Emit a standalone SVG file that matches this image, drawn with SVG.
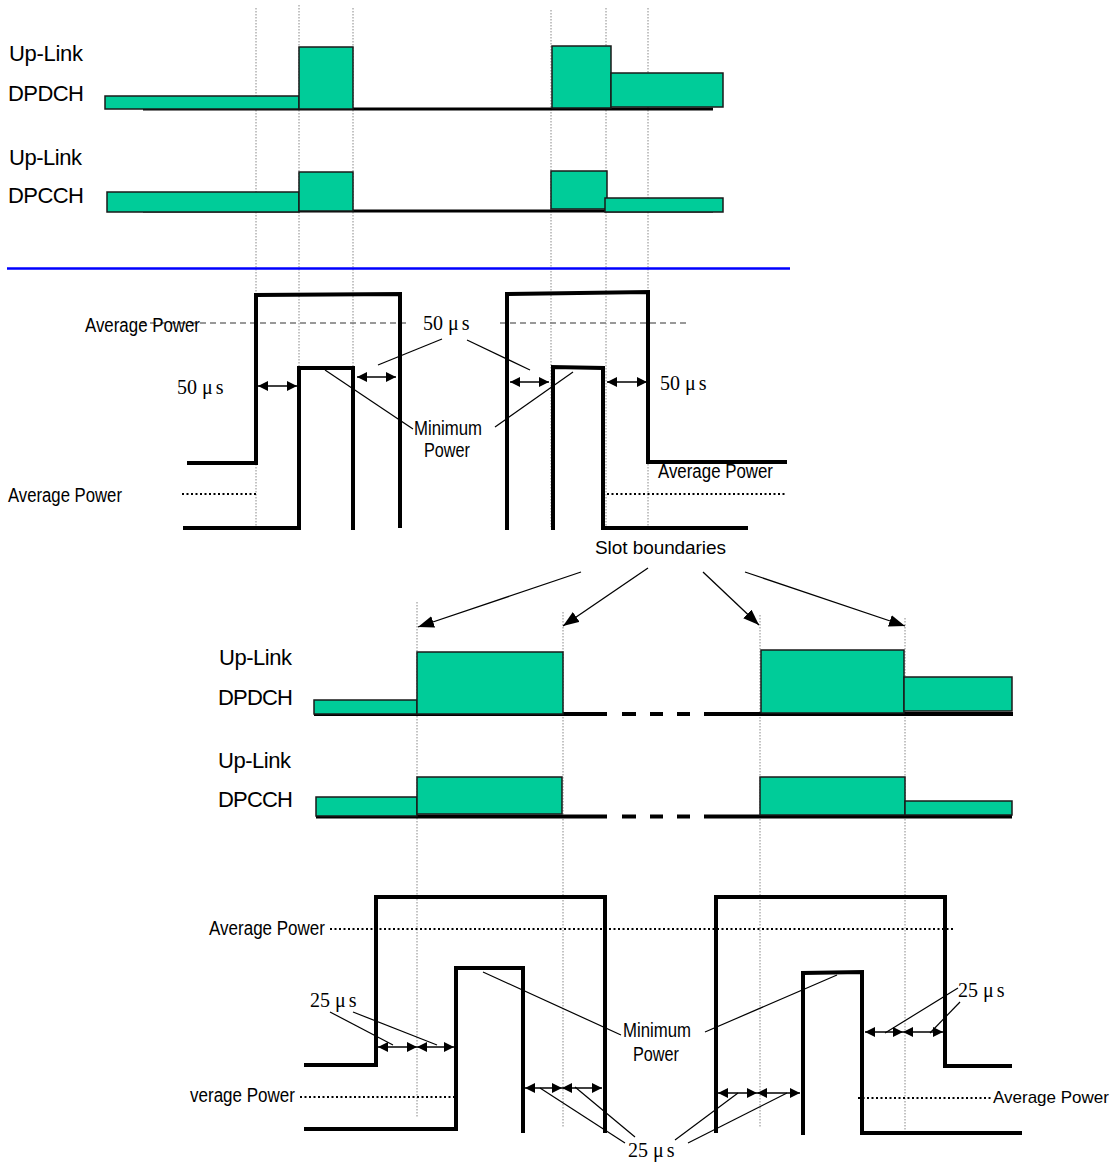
<svg xmlns="http://www.w3.org/2000/svg" width="1111" height="1169" viewBox="0 0 1111 1169">
<style>
.lbl{font-family:"Liberation Sans",Arial,sans-serif;font-size:22px;fill:#000}
.sm{font-family:"Liberation Sans",Arial,sans-serif;font-size:20px;fill:#000}
.us{font-family:"Liberation Serif","Times New Roman",serif;font-size:20px;fill:#000}
.ch{fill:#00CC99;stroke:#1a1a1a;stroke-width:1.5}
.base{stroke:#000;stroke-width:3;fill:none}
.base4{stroke:#000;stroke-width:4;fill:none}
.slot{stroke:#888;stroke-width:1;stroke-dasharray:1.5,1.5;fill:none}
.pulse{stroke:#000;stroke-width:4;fill:none;stroke-linejoin:miter}
.avgdot{stroke:#000;stroke-width:2;stroke-dasharray:2,2.5;fill:none}
.avgdash{stroke:#777;stroke-width:1.5;stroke-dasharray:6,4;fill:none}
.lead{stroke:#000;stroke-width:1.2;fill:none}
.dbl{stroke:#000;stroke-width:1.5;fill:none;marker-start:url(#ah);marker-end:url(#ah)}
.sarr{stroke:#000;stroke-width:1.3;fill:none;marker-end:url(#bh)}
</style>
<defs>
<marker id="ah" viewBox="0 0 10 10" refX="10" refY="5" markerWidth="11" markerHeight="10" markerUnits="userSpaceOnUse" orient="auto-start-reverse">
<path d="M0,0 L10,5 L0,10 z" fill="#000"/>
</marker>
<marker id="bh" viewBox="0 0 16 12" refX="16" refY="6" markerWidth="16" markerHeight="12" markerUnits="userSpaceOnUse" orient="auto">
<path d="M0,0 L16,6 L0,12 z" fill="#000"/>
</marker>
</defs>
<rect width="1111" height="1169" fill="#fff"/>

<!-- slot boundary guide lines -->
<g id="guides">
<line class="slot" x1="256" y1="8" x2="256" y2="527"/>
<line class="slot" x1="299" y1="5" x2="299" y2="527"/>
<line class="slot" x1="353" y1="8" x2="353" y2="527"/>
<line class="slot" x1="551" y1="10" x2="551" y2="527"/>
<line class="slot" x1="606" y1="8" x2="606" y2="527"/>
<line class="slot" x1="648" y1="8" x2="648" y2="527"/>
<line class="slot" x1="417" y1="602" x2="417" y2="1117"/>
<line class="slot" x1="563" y1="612" x2="563" y2="1127"/>
<line class="slot" x1="760" y1="615" x2="760" y2="1128"/>
<line class="slot" x1="905" y1="618" x2="905" y2="1130"/>
</g>

<!-- top channels -->
<g id="top-dpdch">
<text class="lbl" x="9" y="61" textLength="74">Up-Link</text>
<text class="lbl" x="8" y="101" textLength="76">DPDCH</text>
<line class="base" x1="143" y1="109" x2="713" y2="109"/>
<rect class="ch" x="105" y="96" width="194" height="13"/>
<rect class="ch" x="299" y="47" width="54" height="62"/>
<rect class="ch" x="552" y="46" width="59" height="62"/>
<rect class="ch" x="611" y="73" width="112" height="34"/>
</g>
<g id="top-dpcch">
<text class="lbl" x="9" y="165" textLength="73">Up-Link</text>
<text class="lbl" x="8" y="203" textLength="76">DPCCH</text>
<line class="base" x1="143" y1="211" x2="713" y2="211"/>
<rect class="ch" x="107" y="192" width="192" height="20"/>
<rect class="ch" x="299" y="172" width="54" height="39"/>
<rect class="ch" x="551" y="171" width="56" height="38"/>
<rect class="ch" x="605" y="198" width="118" height="14"/>
</g>

<line id="divider" x1="7" y1="268.5" x2="790" y2="268.5" stroke="#0000FF" stroke-width="2.5"/>

<!-- middle power diagram -->
<g id="mid-power">
<line class="avgdash" x1="140" y1="323" x2="410" y2="323"/>
<line class="avgdash" x1="500" y1="323" x2="690" y2="323"/>
<text class="sm" x="85" y="332" textLength="115" lengthAdjust="spacingAndGlyphs">Average Power</text>
<text class="sm" x="8" y="502" textLength="114" lengthAdjust="spacingAndGlyphs">Average Power</text>
<text class="sm" x="658" y="478" textLength="115" lengthAdjust="spacingAndGlyphs">Average Power</text>
<line class="avgdot" x1="182" y1="494" x2="256" y2="494"/>
<line class="avgdot" x1="607" y1="494" x2="787" y2="494"/>
<polyline class="pulse" points="187,463 256,463 256,295 400,294 400,528"/>
<polyline class="pulse" points="183,528 299,528 299,368 353,368 353,530"/>
<polyline class="pulse" points="507,530 507,294 648,292 648,462 787,462"/>
<polyline class="pulse" points="553,530 553,367 603,368 603,528 748,528"/>
<text class="us" x="177" y="394">50 μ<tspan dx="3">s</tspan></text>
<text class="us" x="423" y="330">50 μ<tspan dx="3">s</tspan></text>
<text class="us" x="660" y="390">50 μ<tspan dx="3">s</tspan></text>
<text class="sm" x="414" y="435" textLength="68" lengthAdjust="spacingAndGlyphs">Minimum</text>
<text class="sm" x="424" y="457" textLength="46" lengthAdjust="spacingAndGlyphs">Power</text>
</g>

<text id="slot-label" class="sm" x="595" y="554" style="font-size:19px" textLength="131">Slot boundaries</text>

<!-- bottom channels -->
<g id="bot-dpdch">
<text class="lbl" x="219" y="665" textLength="73">Up-Link</text>
<text class="lbl" x="218" y="705" textLength="75">DPDCH</text>
<line class="base4" x1="314" y1="714" x2="607" y2="714"/>
<line class="base4" x1="622" y1="714" x2="636" y2="714"/>
<line class="base4" x1="650" y1="714" x2="663" y2="714"/>
<line class="base4" x1="677" y1="714" x2="690" y2="714"/>
<line class="base4" x1="704" y1="714" x2="1013" y2="714"/>
<rect class="ch" x="314" y="700" width="103" height="14"/>
<rect class="ch" x="417" y="652" width="146" height="62"/>
<rect class="ch" x="761" y="650" width="143" height="63"/>
<rect class="ch" x="904" y="677" width="108" height="34"/>
</g>
<g id="bot-dpcch">
<text class="lbl" x="218" y="768" textLength="73">Up-Link</text>
<text class="lbl" x="218" y="807" textLength="75">DPCCH</text>
<line class="base4" x1="316" y1="816.5" x2="607" y2="816.5"/>
<line class="base4" x1="622" y1="816.5" x2="636" y2="816.5"/>
<line class="base4" x1="650" y1="816.5" x2="663" y2="816.5"/>
<line class="base4" x1="677" y1="816.5" x2="690" y2="816.5"/>
<line class="base4" x1="704" y1="816.5" x2="1012" y2="816.5"/>
<rect class="ch" x="316" y="797" width="101" height="19"/>
<rect class="ch" x="417" y="777" width="145" height="37"/>
<rect class="ch" x="760" y="777" width="145" height="38"/>
<rect class="ch" x="905" y="801" width="107" height="14"/>
</g>

<!-- bottom power diagram -->
<g id="bot-power">
<line class="avgdot" x1="330" y1="929" x2="953" y2="929"/>
<line class="avgdot" x1="300" y1="1097" x2="455" y2="1097"/>
<line class="avgdot" x1="858" y1="1098" x2="992" y2="1098"/>
<text class="sm" x="209" y="935" textLength="116" lengthAdjust="spacingAndGlyphs">Average Power</text>
<text class="sm" x="190" y="1102" textLength="105" lengthAdjust="spacingAndGlyphs">verage Power</text>
<text class="sm" x="993" y="1103" style="font-size:17px">Average Power</text>
<polyline class="pulse" points="304,1065 376,1065 376,897 605,897 605,1133"/>
<polyline class="pulse" points="304,1129 456,1129 456,968 523,968 523,1133"/>
<polyline class="pulse" points="716,1133 716,897 945,897 945,1066 1012,1066"/>
<polyline class="pulse" points="803,1135 803,973 862,972 862,1133 1022,1133"/>
<text class="us" x="310" y="1007">25 μ<tspan dx="3">s</tspan></text>
<text class="us" x="628" y="1157">25 μ<tspan dx="3">s</tspan></text>
<text class="us" x="958" y="997">25 μ<tspan dx="3">s</tspan></text>
<text class="sm" x="623" y="1037" textLength="68" lengthAdjust="spacingAndGlyphs">Minimum</text>
<text class="sm" x="633" y="1061" textLength="46" lengthAdjust="spacingAndGlyphs">Power</text>
</g>

<!-- connectors: arrows and leader lines -->
<g id="connectors">
<line class="dbl" x1="258" y1="386" x2="297" y2="386"/>
<line class="dbl" x1="357" y1="377" x2="396" y2="377"/>
<line class="dbl" x1="510" y1="382" x2="549" y2="382"/>
<line class="dbl" x1="607" y1="382" x2="647" y2="382"/>
<line class="lead" x1="325" y1="370" x2="413" y2="429"/>
<line class="lead" x1="378" y1="365" x2="442" y2="339"/>
<line class="lead" x1="467" y1="340" x2="530" y2="370"/>
<line class="lead" x1="495" y1="427" x2="573" y2="372"/>

<line class="sarr" x1="581" y1="572" x2="418" y2="627"/>
<line class="sarr" x1="648" y1="568" x2="563" y2="626"/>
<line class="sarr" x1="703" y1="572" x2="759" y2="625"/>
<line class="sarr" x1="745" y1="572" x2="905" y2="626"/>

<line class="dbl" x1="378" y1="1047" x2="417" y2="1047"/>
<line class="dbl" x1="417" y1="1047" x2="454" y2="1047"/>
<line class="dbl" x1="525" y1="1088" x2="562" y2="1088"/>
<line class="dbl" x1="562" y1="1088" x2="602" y2="1088"/>
<line class="dbl" x1="718" y1="1093" x2="757" y2="1093"/>
<line class="dbl" x1="757" y1="1093" x2="800" y2="1093"/>
<line class="dbl" x1="865" y1="1032" x2="903" y2="1032"/>
<line class="dbl" x1="903" y1="1032" x2="943" y2="1032"/>

<line class="lead" x1="330" y1="1012" x2="393" y2="1045"/>
<line class="lead" x1="353" y1="1012" x2="437" y2="1045"/>
<line class="lead" x1="625" y1="1143" x2="540" y2="1088"/>
<line class="lead" x1="635" y1="1137" x2="575" y2="1087"/>
<line class="lead" x1="675" y1="1140" x2="738" y2="1093"/>
<line class="lead" x1="688" y1="1143" x2="787" y2="1093"/>
<line class="lead" x1="483" y1="972" x2="621" y2="1035"/>
<line class="lead" x1="705" y1="1032" x2="837" y2="975"/>
<line class="lead" x1="958" y1="988" x2="885" y2="1033"/>
<line class="lead" x1="960" y1="1002" x2="930" y2="1033"/>
</g>
</svg>
